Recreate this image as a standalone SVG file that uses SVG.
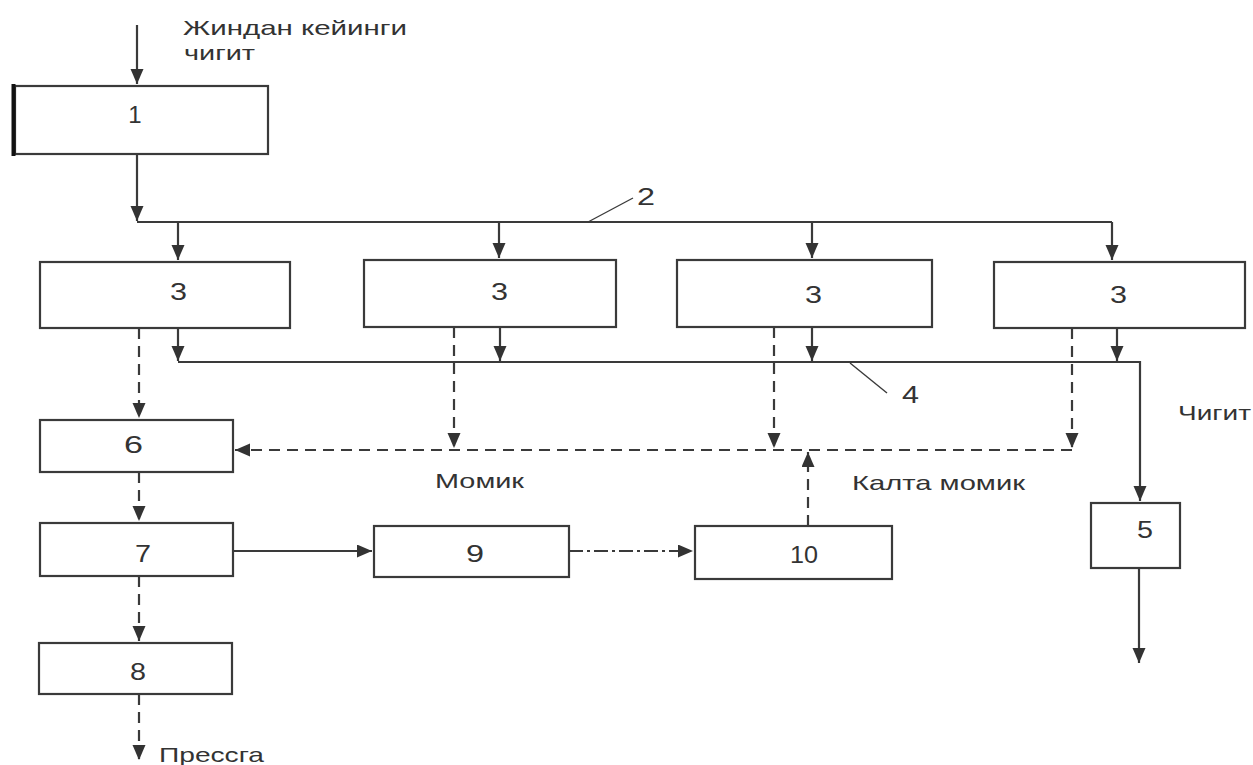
<svg xmlns="http://www.w3.org/2000/svg" width="1253" height="765" viewBox="0 0 1253 765">
<style>
.box{fill:#fff;stroke:#3a3a3a;stroke-width:2.2}
.ln{fill:none;stroke:#3a3a3a;stroke-width:2.2}
.thin{fill:none;stroke:#3a3a3a;stroke-width:1.4}
.dsh{fill:none;stroke:#3a3a3a;stroke-width:2.2;stroke-dasharray:11,7}
.dd{fill:none;stroke:#3a3a3a;stroke-width:2.2;stroke-dasharray:14,4,3,4}
.num{font-family:"Liberation Sans",Arial,sans-serif;font-size:24px;fill:#333}
.lbl{font-family:"Liberation Sans",Arial,sans-serif;font-size:21px;fill:#333}
</style>
<defs>
<marker id="ah" markerUnits="userSpaceOnUse" markerWidth="16" markerHeight="14" refX="15" refY="6.5" orient="auto">
<path d="M0,0 L15,6.5 L0,13 z" fill="#333"/>
</marker>
</defs>
<rect width="1253" height="765" fill="#fff"/>

<g id="connectors">
<path class="ln" d="M137,25 V84" marker-end="url(#ah)"/>
<path class="ln" d="M137,154 V221" marker-end="url(#ah)"/>
<path class="ln" d="M137,222 H1112"/>
<path class="ln" d="M178,222 V260" marker-end="url(#ah)"/>
<path class="ln" d="M499,222 V258" marker-end="url(#ah)"/>
<path class="ln" d="M812,222 V258" marker-end="url(#ah)"/>
<path class="ln" d="M1112,222 V260" marker-end="url(#ah)"/>
<path class="thin" d="M588,222 L633,198"/>
<path class="ln" d="M178,328 V361" marker-end="url(#ah)"/>
<path class="ln" d="M500,327 V361" marker-end="url(#ah)"/>
<path class="ln" d="M812,327 V361" marker-end="url(#ah)"/>
<path class="ln" d="M1117,328 V361" marker-end="url(#ah)"/>
<path class="ln" d="M178,362 H1140 V501" marker-end="url(#ah)"/>
<path class="thin" d="M850,363 L887,393"/>
<path class="ln" d="M233,551 H372" marker-end="url(#ah)"/>
<path class="ln" d="M1139,568 V663" marker-end="url(#ah)"/>
<path class="dsh" d="M139,328 V418" marker-end="url(#ah)"/>
<path class="dsh" d="M139,472 V521" marker-end="url(#ah)"/>
<path class="dsh" d="M139,576 V641" marker-end="url(#ah)"/>
<path class="dsh" d="M139,694 V760" marker-end="url(#ah)"/>
<path class="dsh" d="M454,327 V448" marker-end="url(#ah)"/>
<path class="dsh" d="M774,327 V448" marker-end="url(#ah)"/>
<path class="dsh" d="M1072,328 V448" marker-end="url(#ah)"/>
<path class="dsh" d="M1072,450 H235" marker-end="url(#ah)"/>
<path class="dsh" d="M808,526 V452" marker-end="url(#ah)"/>
<path class="dd" d="M569,551 H693" marker-end="url(#ah)"/>
</g>

<g id="node1">
<rect class="box" x="15" y="86" width="253" height="68"/>
<line x1="13.5" y1="84" x2="13.5" y2="156" stroke="#111" stroke-width="4"/>
<text class="num" x="135" y="123" text-anchor="middle">1</text>
</g>
<g id="node3a">
<rect class="box" x="40" y="262" width="250" height="66"/>
<text class="num" x="170" y="300" textLength="17" lengthAdjust="spacingAndGlyphs">3</text>
</g>
<g id="node3b">
<rect class="box" x="364" y="260" width="252" height="67"/>
<text class="num" x="491" y="300" textLength="17" lengthAdjust="spacingAndGlyphs">3</text>
</g>
<g id="node3c">
<rect class="box" x="677" y="260" width="255" height="67"/>
<text class="num" x="805" y="303" textLength="17" lengthAdjust="spacingAndGlyphs">3</text>
</g>
<g id="node3d">
<rect class="box" x="994" y="262" width="251" height="66"/>
<text class="num" x="1110" y="303" textLength="17" lengthAdjust="spacingAndGlyphs">3</text>
</g>
<g id="node6">
<rect class="box" x="40" y="420" width="193" height="52"/>
<text class="num" x="124" y="453" textLength="19" lengthAdjust="spacingAndGlyphs">6</text>
</g>
<g id="node7">
<rect class="box" x="40" y="523" width="193" height="53"/>
<text class="num" x="135" y="562" textLength="16" lengthAdjust="spacingAndGlyphs">7</text>
</g>
<g id="node8">
<rect class="box" x="39" y="643" width="193" height="51"/>
<text class="num" x="130" y="680" textLength="16" lengthAdjust="spacingAndGlyphs">8</text>
</g>
<g id="node9">
<rect class="box" x="374" y="526" width="195" height="51"/>
<text class="num" x="466" y="562" textLength="18" lengthAdjust="spacingAndGlyphs">9</text>
</g>
<g id="node10">
<rect class="box" x="695" y="526" width="197" height="53"/>
<text class="num" x="790" y="563" font-size="22" textLength="28" lengthAdjust="spacingAndGlyphs">10</text>
</g>
<g id="node5">
<rect class="box" x="1091" y="503" width="89" height="65"/>
<text class="num" x="1137" y="538" textLength="16" lengthAdjust="spacingAndGlyphs">5</text>
</g>

<g id="labels">
<text class="lbl" x="183" y="35" textLength="224" lengthAdjust="spacingAndGlyphs">Жиндан кейинги</text>
<text class="lbl" x="184" y="60" textLength="71" lengthAdjust="spacingAndGlyphs">чигит</text>
<text class="num" x="637" y="205" textLength="18" lengthAdjust="spacingAndGlyphs">2</text>
<text class="num" x="902" y="403" textLength="17" lengthAdjust="spacingAndGlyphs">4</text>
<text class="lbl" x="1178" y="420" textLength="73" lengthAdjust="spacingAndGlyphs">Чигит</text>
<text class="lbl" x="435" y="488" textLength="89" lengthAdjust="spacingAndGlyphs">Момик</text>
<text class="lbl" x="852" y="490" textLength="173" lengthAdjust="spacingAndGlyphs">Калта  момик</text>
<text class="lbl" x="159" y="762" textLength="105" lengthAdjust="spacingAndGlyphs">Прессга</text>
</g>
</svg>
